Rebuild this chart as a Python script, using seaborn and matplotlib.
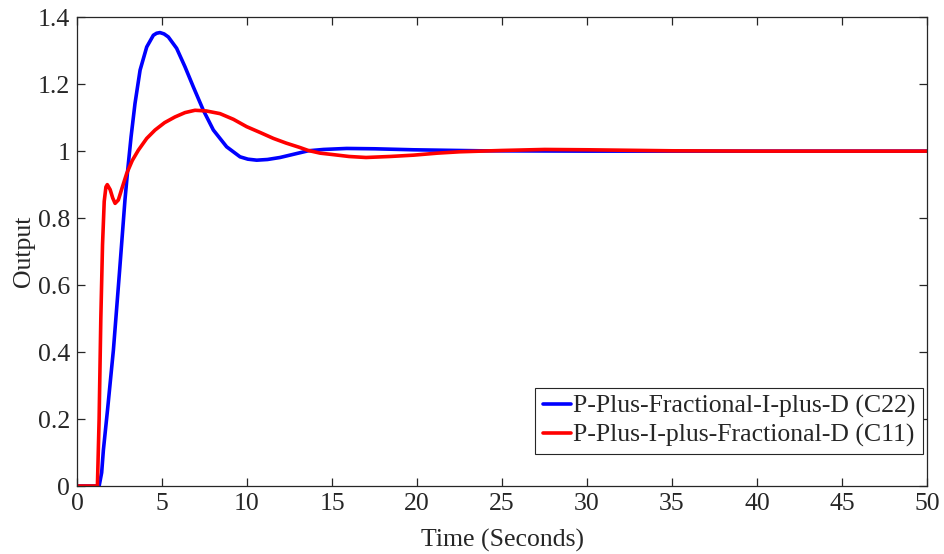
import matplotlib
matplotlib.use("Agg")
import matplotlib.pyplot as plt
import seaborn as sns
import pandas as pd
from matplotlib.ticker import FuncFormatter

# ---- data ----
t_c22 = [0, 1.3, 1.45, 1.55, 1.8, 2.14, 2.5, 2.82, 2.98, 3.18, 3.41, 3.71, 4.1, 4.49, 4.68,
         4.88, 5.12, 5.37, 5.86, 6.35, 6.84, 7.43, 8.02, 8.8, 9.59, 10.05, 10.57, 11.2, 11.94,
         13.1, 13.6, 14.5, 15.86, 17.5, 19.8, 23.7, 30, 40, 50]
y_c22 = [0, 0, 0.04, 0.107, 0.23, 0.406, 0.64, 0.854, 0.943, 1.043, 1.142, 1.242, 1.311, 1.346, 1.352,
         1.354, 1.35, 1.341, 1.307, 1.252, 1.192, 1.122, 1.063, 1.013, 0.983, 0.976, 0.973, 0.975, 0.981,
         0.995, 1.001, 1.005, 1.008, 1.007, 1.004, 1.001, 1.0, 1.0, 1.0]

t_c11 = [0, 1.2, 1.3, 1.4, 1.5, 1.6, 1.7, 1.78, 1.95, 2.1, 2.24, 2.43, 2.65, 2.92, 3.25,
         3.61, 4.1, 4.59, 5.15, 5.76, 6.35, 6.94, 7.6, 8.41, 9.2, 9.98, 10.8, 11.55, 12.3,
         13.1, 13.6, 14.3, 15.0, 16.0, 17.0, 18.4, 19.8, 21.2, 22.5, 25, 27.5, 30, 35, 40, 50]
y_c11 = [0, 0, 0.2, 0.5, 0.72, 0.85, 0.893, 0.9, 0.885, 0.86, 0.844, 0.854, 0.89, 0.933, 0.972,
         1.003, 1.038, 1.063, 1.085, 1.102, 1.115, 1.122, 1.12, 1.112, 1.095, 1.073, 1.055, 1.038, 1.024,
         1.011, 1.002, 0.994, 0.99, 0.984, 0.981, 0.984, 0.988, 0.994, 0.998, 1.002, 1.005, 1.004, 1.001, 1.0, 1.0]

labels = ["P-Plus-Fractional-I-plus-D (C22)", "P-Plus-I-plus-Fractional-D (C11)"]
x_ticks = [0, 5, 10, 15, 20, 25, 30, 35, 40, 45, 50]
y_ticks = [0, 0.2, 0.4, 0.6, 0.8, 1.0, 1.2, 1.4]

sns.set_style("ticks")
plt.rcParams['font.family'] = ['Liberation Serif', 'DejaVu Serif']

df1 = pd.DataFrame({"t": t_c22, "y": y_c22})
df2 = pd.DataFrame({"t": t_c11, "y": y_c11})

fig, ax = plt.subplots(figsize=(9.45, 5.54), dpi=100)
fig.subplots_adjust(left=0.0815, right=0.981, top=0.969, bottom=0.1227)

sns.lineplot(data=df1, x="t", y="y", ax=ax, color=(0, 0, 1), linewidth=2.6,
             label=labels[0], sort=False)
sns.lineplot(data=df2, x="t", y="y", ax=ax, color=(1, 0, 0), linewidth=2.6,
             label=labels[1], sort=False)

ax.set_xlim(0, 50)
ax.set_ylim(0, 1.4)
ax.set_xticks(x_ticks)
ax.set_yticks(y_ticks)
ax.yaxis.set_major_formatter(FuncFormatter(lambda v, p: f"{v:g}"))
ax.xaxis.set_major_formatter(FuncFormatter(lambda v, p: f"{v:g}"))

for s in ax.spines.values():
    s.set_visible(True)
    s.set_color('#262626')
    s.set_linewidth(0.9)
FS = 18.5
ax.tick_params(direction='in', length=6, width=0.9, colors='#262626',
               labelsize=FS, top=True, right=True, pad=5)
ax.set_xlabel("Time (Seconds)", fontsize=FS, color='#262626', labelpad=10)
ax.set_ylabel("Output", fontsize=FS, color='#262626', labelpad=2)

leg = ax.legend(loc='lower right', fontsize=FS, frameon=True, fancybox=False,
                framealpha=1, edgecolor='#262626', handlelength=1.1, handletextpad=0.1,
                borderpad=0.28, labelspacing=0.2, borderaxespad=0,
                bbox_to_anchor=(0.9953, 0.068))
leg.get_frame().set_linewidth(0.8)

fig.savefig("out.png", dpi=100)
